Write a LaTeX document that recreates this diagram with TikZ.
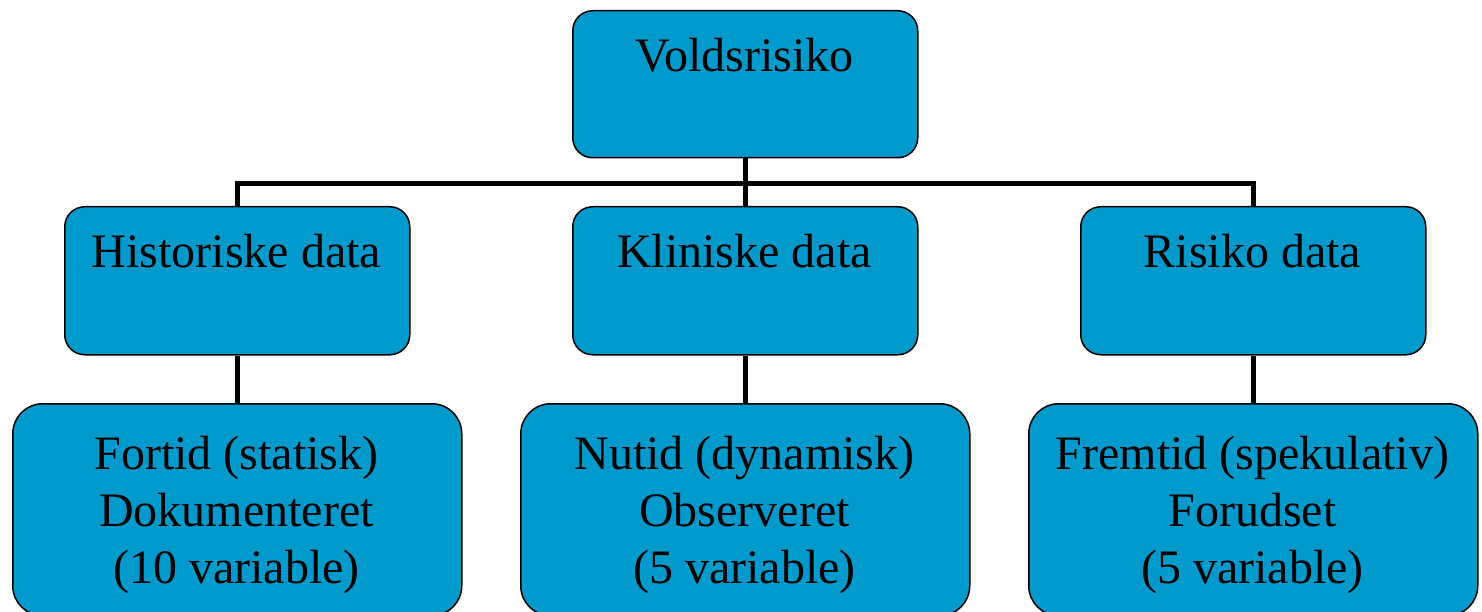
\documentclass[tikz,border=0pt]{standalone}
\usepackage{fontspec}
\setmainfont{Liberation Serif}
\usetikzlibrary{backgrounds}
\definecolor{boxblue}{RGB}{0,153,204}
\begin{document}
\begin{tikzpicture}[x=1pt,y=-1pt,
  box/.style={draw=black, line width=1.5pt, fill=boxblue, rounded corners=20pt, inner sep=0pt, anchor=north west, minimum width=345pt, minimum height=148pt},
  bbox/.style={box, rounded corners=30pt, minimum width=449pt, minimum height=212pt},
  lbl/.style={font=\fontsize{48}{57}\selectfont, align=center, anchor=base, inner sep=0pt},
  conn/.style={line width=5pt, black}]
\useasboundingbox (0,0) rectangle (1482,612);
\node[box, minimum height=147pt] (v) at (572,10) {};
\node[box] (h) at (64,206) {};
\node[box] (k) at (572,206) {};
\node[box] (r) at (1080,206) {};
\node[bbox] (f) at (12,403) {};
\node[bbox] (n) at (520,403) {};
\node[bbox] (fr) at (1028,403) {};
\begin{scope}[on background layer]
\draw[conn] (v.south) -- ++(0,25) coordinate (hub) -| (h.north);
\draw[conn] (hub) -| (r.north);
\draw[conn] (v.south) -- (k.north);
\draw[conn] (h.south) -- (f.north);
\draw[conn] (k.south) -- (n.north);
\draw[conn] (r.south) -- (fr.north);
\end{scope}
% labels
\node[lbl] (tv) at (744.5,72) {Voldsrisiko};
\node[lbl] (th) at (236.5,268) {Historiske data};
\node[lbl] (tk) at (744.5,268) {Kliniske data};
\node[lbl] (tr) at (1252.5,268) {Risiko data};
\node[lbl] (tf) at (236.5,583) {Fortid (statisk)\\Dokumenteret\\(10 variable)};
\node[lbl] (tn) at (744.5,583) {Nutid (dynamisk)\\Observeret\\(5 variable)};
\node[lbl] (tfr) at (1252.5,583) {Fremtid (spekulativ)\\Forudset\\(5 variable)};
\end{tikzpicture}
\end{document}
